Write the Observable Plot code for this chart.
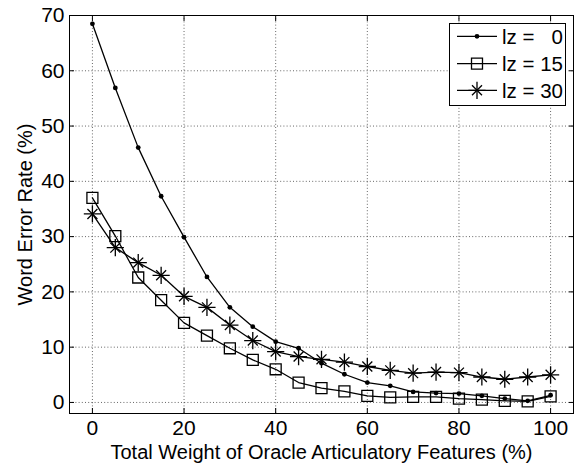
<!DOCTYPE html>
<html><head><meta charset="utf-8">
<script src="https://cdn.jsdelivr.net/npm/d3@7"></script>
<script src="https://cdn.jsdelivr.net/npm/@observablehq/plot@0.6"></script>
<style>
body{margin:0;background:#fff;}
#wrap{position:relative;width:574px;height:466px;}
#legend{position:absolute;left:0;top:0;}
</style></head><body><div id="wrap"></div>
<script>
const weights = [0,5,10,15,20,25,30,35,40,45,50,55,60,65,70,75,80,85,90,95,100];
const werLz0  = [68.5,56.9,46.1,37.3,29.9,22.7,17.2,13.7,11.0,9.8,7.1,5.1,3.6,3.0,1.9,1.7,1.6,1.2,0.7,0.3,1.3];
const werLz15 = [37.0,30.1,22.6,18.5,14.4,12.1,9.8,7.7,6.0,3.6,2.6,2.0,1.2,0.9,1.0,1.0,0.7,0.5,0.3,0.2,1.1];
const werLz30 = [34.1,28.0,25.3,23.0,19.2,17.2,14.0,11.2,9.2,8.3,7.8,7.3,6.5,5.8,5.3,5.5,5.4,4.6,4.2,4.6,5.0];
const seriesNames = ["lz =   0", "lz = 15", "lz = 30"];
const xTicks = [0,20,40,60,80,100];
const yTicks = [0,10,20,30,40,50,60,70];
const xLabel = "Total Weight of Oracle Articulatory Features (%)";
const yLabel = "Word Error Rate (%)";

const seriesValues = [werLz0, werLz15, werLz30];
const rows = [];
seriesValues.forEach((vals, s) => vals.forEach((v, i) => rows.push({series: seriesNames[s], x: weights[i], y: v})));
const bySeries = name => rows.filter(d => d.series === name);

const font = "Liberation Sans, Arial, Helvetica, sans-serif";
const tickFs = 21, labelFs = 20, legendFs = 20.5;
const gridStyle = {stroke: "#000", strokeOpacity: 0.6, strokeDasharray: "1,2.2", strokeWidth: 1};
const noText = () => "";

const chart = Plot.plot({
  width: 574, height: 466,
  marginLeft: 69, marginRight: 1, marginTop: 15, marginBottom: 53,
  style: {fontFamily: font, fontSize: labelFs + "px", color: "#000", background: "#fff"},
  x: {domain: [-5, 105]},
  y: {domain: [-2, 70]},
  marks: [
    Plot.gridX(xTicks, gridStyle),
    Plot.gridY(yTicks, gridStyle),
    Plot.axisX(xTicks, {anchor: "bottom", tickSize: 0, tickPadding: 7, fontSize: tickFs, label: null}),
    Plot.axisX(xTicks, {anchor: "bottom", tickSize: -5, tickFormat: noText, fontSize: labelFs, label: xLabel, labelAnchor: "center", labelOffset: 45, labelArrow: "none"}),
    Plot.axisX(xTicks, {anchor: "top", tickSize: -5, tickFormat: noText, label: null}),
    Plot.axisY(yTicks, {anchor: "left", tickSize: 0, tickPadding: 5, fontSize: tickFs, label: null}),
    Plot.axisY(yTicks, {anchor: "left", tickSize: -5, tickFormat: noText, fontSize: labelFs, label: yLabel, labelAnchor: "center", labelOffset: 52, labelArrow: "none"}),
    Plot.axisY(yTicks, {anchor: "right", tickSize: -5, tickFormat: noText, label: null}),
    Plot.frame({stroke: "#000", strokeWidth: 1}),
    Plot.line(rows, {x: "x", y: "y", z: "series", stroke: "#000", strokeWidth: 1.3}),
    Plot.dot(bySeries(seriesNames[0]), {x: "x", y: "y", r: 2.4, fill: "#000", stroke: "none"}),
    Plot.dot(bySeries(seriesNames[1]), {x: "x", y: "y", symbol: "square", r: 6.2, fill: "none", stroke: "#000", strokeWidth: 1.3}),
    Plot.dot(bySeries(seriesNames[2]), {x: "x", y: "y", symbol: "plus", r: 5.6, fill: "none", stroke: "#000", strokeWidth: 1.3}),
    Plot.dot(bySeries(seriesNames[2]), {x: "x", y: "y", symbol: "times", r: 4.6, fill: "none", stroke: "#000", strokeWidth: 1.3})
  ]
});
const wrap = document.getElementById("wrap");
wrap.appendChild(chart);

// Legend box (MATLAB-style, inside the axes)
const lg = {left: 449, top: 23, w: 116, h: 82, rowY: [13.3, 40.6, 67.3]};
const svg = d3.select(wrap).append("svg").attr("id", "legend")
  .attr("width", 574).attr("height", 466)
  .style("font-family", font).style("font-size", legendFs + "px");
const g = svg.append("g").attr("transform", `translate(${lg.left},${lg.top})`);
g.append("rect").attr("x", 0.5).attr("y", 0.5).attr("width", lg.w).attr("height", lg.h)
  .attr("fill", "#fff").attr("stroke", "#000").attr("stroke-width", 1);
seriesNames.forEach((name, i) => {
  const y = lg.rowY[i];
  const row = g.append("g").attr("transform", `translate(0,${y})`);
  row.append("line").attr("x1", 8).attr("x2", 48).attr("y1", 0).attr("y2", 0).attr("stroke", "#000").attr("stroke-width", 1.3);
  const c = row.append("g").attr("transform", "translate(28,0)");
  if (i === 0) c.append("path").attr("d", d3.symbol(d3.symbolCircle, Math.PI * 2.4 * 2.4)()).attr("fill", "#000");
  if (i === 1) c.append("path").attr("d", d3.symbol(d3.symbolSquare, Math.PI * 6.2 * 6.2)()).attr("fill", "none").attr("stroke", "#000").attr("stroke-width", 1.3);
  if (i === 2) {
    c.append("path").attr("d", d3.symbol(d3.symbolPlus, Math.PI * 5.6 * 5.6)()).attr("fill", "none").attr("stroke", "#000").attr("stroke-width", 1.3);
    c.append("path").attr("d", d3.symbol(d3.symbolTimes, Math.PI * 4.6 * 4.6)()).attr("fill", "none").attr("stroke", "#000").attr("stroke-width", 1.3);
  }
  row.append("text").attr("x", 114).attr("y", 0).attr("dy", "0.36em").attr("text-anchor", "end")
    .style("white-space", "pre").attr("xml:space", "preserve").text(name);
});
</script>
</body></html>
